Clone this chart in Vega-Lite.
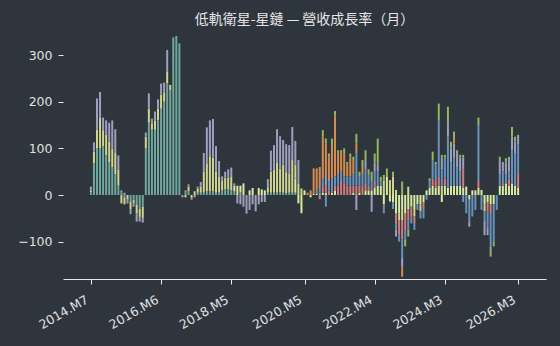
{
"$schema": "https://vega.github.io/schema/vega-lite/v6.json",
"width": 483, "height": 251,
"autosize": {"type": "none"},
"padding": {"left": 63, "top": 28, "right": 14, "bottom": 67},
"background": "#2f353d",
"title": {"text": "低軌衛星-星鏈 — 營收成長率（月）", "font": "Noto Sans CJK TC", "fontSize": 14, "fontWeight": "normal", "color": "#e6e6e6", "anchor": "middle", "frame": "group", "baseline": "bottom", "offset": -13},
"config": {"view": {"stroke": null}},
"data": {"values": [
{"t":0,"a":6,"c":4,"f":8},
{"t":1,"a":68,"c":25,"f":20},
{"t":2,"a":100,"c":40,"f":67},
{"t":3,"a":100,"c":65,"f":56},
{"t":4,"a":104,"c":35,"f":27},
{"t":5,"a":85,"c":45,"f":30},
{"t":6,"a":70,"c":45,"f":40},
{"t":7,"a":60,"c":40,"f":60},
{"t":8,"a":45,"c":45,"f":51},
{"t":9,"a":20,"c":35,"f":30},
{"t":10,"a":5,"f":5,"c":-18},
{"t":11,"f":5,"c":-15,"a":-5},
{"t":12,"c":-10,"f":-8},
{"t":13,"a":-15,"c":-16,"f":-10},
{"t":14,"a":-10,"c":-8,"f":-7},
{"t":15,"a":-20,"c":-20,"f":-17},
{"t":16,"a":-30,"c":-17,"f":-10},
{"t":17,"a":-25,"c":-24,"f":-10},
{"t":18,"a":100,"c":25,"f":9},
{"t":19,"a":155,"c":30,"f":33},
{"t":20,"a":140,"c":14,"f":10},
{"t":21,"a":140,"c":20,"f":19},
{"t":22,"a":160,"c":25,"f":20},
{"t":23,"a":185,"c":30,"f":24},
{"t":24,"a":200,"c":20,"f":21},
{"t":25,"a":240,"c":25,"f":46},
{"t":26,"a":225,"c":11},
{"t":27,"a":338},
{"t":28,"a":341},
{"t":29,"a":325},
{"t":30,"f":-5},
{"t":31,"a":5,"f":5,"c":-5},
{"t":32,"a":8,"c":10,"f":5},
{"t":33,"c":-6,"f":-4},
{"t":34,"c":8,"f":-5},
{"t":35,"a":5,"c":8,"f":5},
{"t":36,"a":5,"c":13,"f":10},
{"t":37,"a":5,"c":45,"f":40},
{"t":38,"a":8,"c":60,"f":77},
{"t":39,"a":8,"c":75,"f":77},
{"t":40,"a":8,"c":72,"f":83},
{"t":41,"a":5,"c":45,"f":55},
{"t":42,"a":6,"c":34,"f":33},
{"t":43,"a":10,"c":20,"f":10},
{"t":44,"a":12,"c":25,"f":13},
{"t":45,"a":12,"c":25,"f":18},
{"t":46,"a":10,"c":30,"f":19},
{"t":47,"a":8,"b":12,"f":5},
{"t":48,"b":20,"f":-18},
{"t":49,"a":5,"b":15,"f":-20},
{"t":50,"b":25,"f":-25},
{"t":51,"f":-40},
{"t":52,"b":10,"f":-32},
{"t":53,"b":15,"f":-20},
{"t":54,"f":-35},
{"t":55,"b":15,"f":-20},
{"t":56,"b":12,"f":-15},
{"t":57,"b":10,"f":-15},
{"t":58,"a":5,"c":10,"f":19},
{"t":59,"a":5,"c":45,"f":45},
{"t":60,"a":5,"c":50,"f":52},
{"t":61,"a":5,"c":65,"f":71},
{"t":62,"a":6,"c":50,"f":70},
{"t":63,"a":5,"c":60,"f":53},
{"t":64,"a":4,"c":45,"f":60},
{"t":65,"a":5,"c":40,"f":62},
{"t":66,"a":5,"c":70,"f":71},
{"t":67,"a":5,"b":30,"c":30,"f":51},
{"t":68,"c":25,"f":50,"b":-18},
{"t":69,"c":14,"b":-39},
{"t":70,"b":10},
{"t":71,"g":5},
{"t":72,"g":10,"b":-5},
{"t":73,"b":3,"d":4,"g":50},
{"t":74,"b":3,"e":6,"g":48},
{"t":75,"a":5,"e":10,"g":45,"d":-9},
{"t":76,"b":5,"d":10,"e":20,"g":90,"h":14},
{"t":77,"b":5,"d":15,"f":25,"g":65,"h":11,"e":-25},
{"t":78,"d":10,"e":20,"g":50,"h":9},
{"t":79,"b":5,"e":30,"g":70,"h":16},
{"t":80,"b":10,"d":10,"e":20,"g":130,"h":10},
{"t":81,"d":20,"e":25,"g":45,"h":6},
{"t":82,"d":30,"e":20,"g":40,"h":6},
{"t":83,"d":25,"e":15,"g":50,"h":10},
{"t":84,"d":20,"e":20,"g":25,"h":6},
{"t":85,"d":20,"e":20,"g":40,"h":9},
{"t":86,"b":5,"d":15,"e":25,"g":30,"h":7},
{"t":87,"d":20,"e":70,"g":20,"h":21,"f":-32},
{"t":88,"b":5,"d":15,"e":20,"h":10},
{"t":89,"d":20,"e":25,"g":15,"h":15},
{"t":90,"b":10,"d":15,"e":30,"f":20,"h":21},
{"t":91,"b":10,"d":10,"e":25,"h":10},
{"t":92,"b":10,"e":20,"h":20,"f":-36},
{"t":93,"b":15,"d":15,"e":20,"f":20,"h":19},
{"t":94,"b":20,"e":30,"f":15,"h":56},
{"t":95,"b":20,"e":10,"h":9},
{"t":96,"c":30,"h":13,"b":-20,"e":-19},
{"t":97,"b":40,"h":17},
{"t":98,"c":32,"b":-14},
{"t":99,"c":40,"h":10,"e":-15,"b":-15},
{"t":100,"c":11,"b":-40,"d":-20,"e":-14,"f":-15},
{"t":101,"b":-40,"c":-15,"d":-30,"e":-15},
{"t":102,"h":29,"b":-30,"c":-25,"d":-40,"e":-40,"f":-20,"g":-20},
{"t":103,"b":-40,"d":-35,"e":-20,"h":-15},
{"t":104,"c":18,"b":-30,"d":-25,"e":-20,"h":-14},
{"t":105,"b":-25,"d":-20,"e":-16},
{"t":106,"b":-30,"c":-15,"d":-15,"e":-15},
{"t":107,"b":-20,"e":-12},
{"t":108,"b":-20,"c":-15,"e":-15},
{"t":109,"b":-15,"d":-15,"e":-20},
{"t":110,"b":10,"e":-10},
{"t":111,"b":15,"e":15,"h":6},
{"t":112,"b":20,"d":15,"e":40,"h":18},
{"t":113,"b":15,"d":15,"e":35,"h":6},
{"t":114,"b":20,"d":20,"e":120,"h":36},
{"t":115,"c":20,"e":35,"f":25,"h":6,"b":-15},
{"t":116,"b":20,"d":15,"e":45,"h":6},
{"t":117,"b":15,"e":110,"f":30,"h":34},
{"t":118,"b":20,"e":50,"f":30,"h":14},
{"t":119,"b":20,"e":60,"f":30,"g":10,"h":16},
{"t":120,"b":20,"e":40,"f":30,"h":6},
{"t":121,"b":20,"e":30,"f":30,"h":6},
{"t":122,"b":15,"d":40,"f":25,"h":6,"e":-15},
{"t":123,"b":18,"e":-39},
{"t":124,"b":-10,"e":-48,"f":-10},
{"t":125,"b":10,"e":-46},
{"t":126,"b":10,"e":-32},
{"t":127,"b":15,"d":15,"e":120,"h":16},
{"t":128,"b":11,"e":-32},
{"t":129,"b":-20,"c":-15,"e":-21,"f":-30},
{"t":130,"b":-15,"d":-20,"e":-36,"f":-15},
{"t":131,"b":-20,"d":-20,"e":-70,"f":-10,"h":-12},
{"t":132,"b":-20,"e":-80,"h":-10},
{"t":133,"e":-32},
{"t":134,"b":20,"e":25,"f":30,"h":7},
{"t":135,"b":20,"d":6,"e":25,"f":20},
{"t":136,"b":25,"e":20,"f":25,"h":9},
{"t":137,"b":20,"d":15,"e":15,"f":25,"h":7},
{"t":138,"b":25,"e":70,"f":30,"h":21},
{"t":139,"b":20,"e":70,"f":25,"h":10},
{"t":140,"b":15,"d":30,"e":64,"f":20}
]},
"transform": [
  {"fold": ["a","b","c","d","e","f","g","h"], "as": ["s","v"]},
  {"filter": "isValid(datum.v)"}
],
"mark": {"type": "bar", "size": 2},
"encoding": {
  "x": {"field": "t", "type": "quantitative",
    "scale": {"domain": [-7.5, 147.5], "nice": false, "zero": false},
    "axis": {"title": null, "grid": false, "values": [0,23,46,70,93,116,140],
      "labelExpr": "(floor((datum.value+6)/12)+2014) + '.M' + ((datum.value+6)%12+1)",
      "domainColor": "#e8e8e8", "domainWidth": 1.2, "tickColor": "#e8e8e8", "tickSize": 5, "tickWidth": 1,
      "labelColor": "#e0e0e0", "labelFont": "DejaVu Sans", "labelFontSize": 12.5,
      "labelAngle": -30, "labelAlign": "right", "labelBaseline": "top", "labelPadding": 9, "labelOffset": -7}},
  "y": {"field": "v", "type": "quantitative", "stack": "zero",
    "scale": {"domain": [-180, 358], "nice": false},
    "axis": {"title": null, "grid": false, "domain": false, "values": [-100,0,100,200,300],
      "tickColor": "#e8e8e8", "tickSize": 5, "tickWidth": 1,
      "labelColor": "#e0e0e0", "labelFont": "DejaVu Sans", "labelFontSize": 12.5, "labelPadding": 6}},
  "color": {"field": "s", "type": "nominal", "legend": null,
    "scale": {"domain": ["a","b","c","d","e","f","g","h"],
      "range": ["#6fa89d","#d8eba1","#cfd58c","#d47b7d","#6792ba","#9e9ebd","#d58b4f","#93b55e"]}},
  "order": {"field": "s", "sort": "ascending"}
}
}
